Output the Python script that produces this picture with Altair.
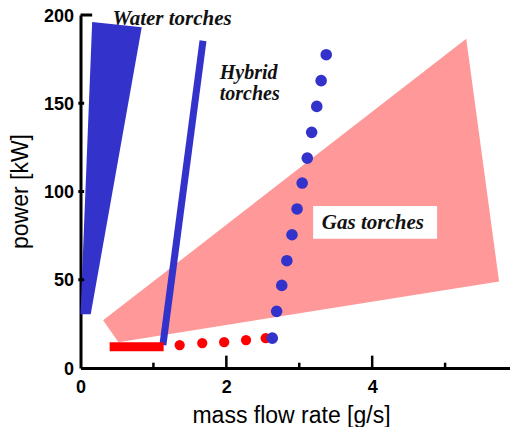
import altair as alt
import pandas as pd

# ---- data ----
water_x = [0.0, 0.16, 0.84, 0.14]
water_y = [30.4, 196.0, 193.0, 30.4]

gas_x = [0.31, 0.52, 5.74, 5.29]
gas_y = [27.0, 14.6, 49.0, 186.5]

hybrid_x = [1.13, 1.68]
hybrid_y = [13.0, 185.4]

red_bar_x = [0.40, 1.14]
red_bar_y = [12.1, 12.1]

red_dot_x = [1.36, 1.67, 1.97, 2.27, 2.54]
red_dot_y = [13.0, 14.1, 14.6, 15.8, 16.9]

blue_dot_x = [3.37, 3.30, 3.24, 3.17, 3.11, 3.04, 2.97, 2.90, 2.83, 2.76, 2.69, 2.63]
blue_dot_y = [177.5, 162.8, 148.2, 133.5, 118.9, 104.8, 90.1, 75.5, 60.8, 46.8, 32.1, 16.9]

x_major_ticks = [2, 4, 6]
x_minor_ticks = [1, 3, 5]
y_small_ticks = [50, 100, 150]
y_top_tick = [200]
x_labels = [0, 2, 4, 6]
y_labels = [0, 50, 100, 150, 200]

label_text = ["Water torches", "Hybrid", "torches", "Gas torches"]
label_x = [0.44, 1.91, 1.91, 3.31]
label_y = [194.3, 164.0, 152.1, 78.9]

gas_box_x = [3.19]
gas_box_x2 = [4.89]
gas_box_y = [73.2]
gas_box_y2 = [91.8]

BLUE = "#3333cc"
PINK = "#ff9999"
RED = "#ff0000"

# the right edge of the reference cuts the axis just at 6; the page only shows up to ~5.89
xs = alt.Scale(domain=[0, 5.89], nice=False, zero=False)
ys = alt.Scale(domain=[0, 200], nice=False, zero=False)

x_axis = alt.Axis(values=x_labels, title="mass flow rate [g/s]", labelPadding=10,
                  labelFlush=False, titleX=210.5, titleY=54, titleBaseline="alphabetic")
y_axis = alt.Axis(values=y_labels, title="power [kW]", labelPadding=7, labelFlush=False,
                  labelOffset=1, titleX=-53.5, titleY=176, titleBaseline="alphabetic",
                  titleAlign="center")

def X(f="x"):
    return alt.X(f"{f}:Q", scale=xs, axis=x_axis)

def Y(f="y"):
    return alt.Y(f"{f}:Q", scale=ys, axis=y_axis)

gas_df = pd.DataFrame({"x": gas_x, "y": gas_y, "o": range(len(gas_x))})
water_df = pd.DataFrame({"x": water_x, "y": water_y, "o": range(len(water_x))})
hyb_df = pd.DataFrame({"x": hybrid_x, "y": hybrid_y, "o": range(2)})
redbar_df = pd.DataFrame({"x": red_bar_x, "y": red_bar_y, "o": range(2)})
reddot_df = pd.DataFrame({"x": red_dot_x, "y": red_dot_y})
bluedot_df = pd.DataFrame({"x": blue_dot_x, "y": blue_dot_y})

gas = alt.Chart(gas_df).mark_line(interpolate="linear-closed", filled=True, color=PINK,
                                  strokeWidth=0).encode(x=X(), y=Y(), order="o:Q")
water = alt.Chart(water_df).mark_line(interpolate="linear-closed", filled=True, color=BLUE,
                                      strokeWidth=0).encode(x=X(), y=Y(), order="o:Q")
hybrid = alt.Chart(hyb_df).mark_line(color=BLUE, strokeWidth=7, strokeCap="butt").encode(
    x=X(), y=Y(), order="o:Q")
redbar = alt.Chart(redbar_df).mark_line(color=RED, strokeWidth=9, strokeCap="butt").encode(
    x=X(), y=Y(), order="o:Q")
reddots = alt.Chart(reddot_df).mark_circle(color=RED, size=105, opacity=1).encode(x=X(), y=Y())
bluedots = alt.Chart(bluedot_df).mark_circle(color=BLUE, size=135, opacity=1).encode(x=X(), y=Y())

# inward ticks
xt_df = pd.DataFrame({"x": x_major_ticks + x_minor_ticks,
                      "y0": [0.0] * 6,
                      "y1": [7.0, 7.0, 7.0, 3.0, 3.0, 3.0]})
xticks = alt.Chart(xt_df).mark_rule(color="black", strokeWidth=2.5).encode(
    x=X(), y=Y("y0"), y2="y1:Q")
yt_df = pd.DataFrame({"y": y_small_ticks + y_top_tick,
                      "x0": [-0.03] * 3 + [0.0],
                      "x1": [0.05] * 3 + [0.16]})
yticks = alt.Chart(yt_df).mark_rule(color="black", strokeWidth=3).encode(
    y=Y(), x=X("x0"), x2="x1:Q")

box_df = pd.DataFrame({"x": gas_box_x, "x2": gas_box_x2, "y": gas_box_y, "y2": gas_box_y2})
box = alt.Chart(box_df).mark_rect(color="white", opacity=1).encode(
    x=X(), x2="x2:Q", y=Y(), y2="y2:Q")

lab_df = pd.DataFrame({"t": label_text, "x": label_x, "y": label_y,
                       "s": [21, 20, 20, 21]})
labels = alt.Chart(lab_df).mark_text(align="left", baseline="alphabetic",
                                     font="Liberation Serif", fontStyle="italic",
                                     fontWeight="bold", color="#111111").encode(
    x=X(), y=Y(), text="t:N", size=alt.Size("s:Q", scale=None, legend=None))

chart = alt.layer(gas, water, hybrid, redbar, reddots, bluedots, xticks, yticks, box, labels).properties(
    width=429.5, height=353,
    autosize=alt.AutoSizeParams(type="none"),
    padding={"left": 72.5, "top": 7, "right": 0, "bottom": 59},
    background="white",
).configure_view(stroke=None).configure_axis(
    domainColor="black", domainWidth=3, ticks=False, tickSize=0, grid=False,
    labelFont="Liberation Sans", labelFontWeight="bold", labelFontSize=18, labelColor="black",
    titleFont="Liberation Sans", titleFontSize=23, titleFontWeight="normal", titleColor="black",
)

chart.save("out.html", embed_options={"renderer": "svg", "actions": False})
